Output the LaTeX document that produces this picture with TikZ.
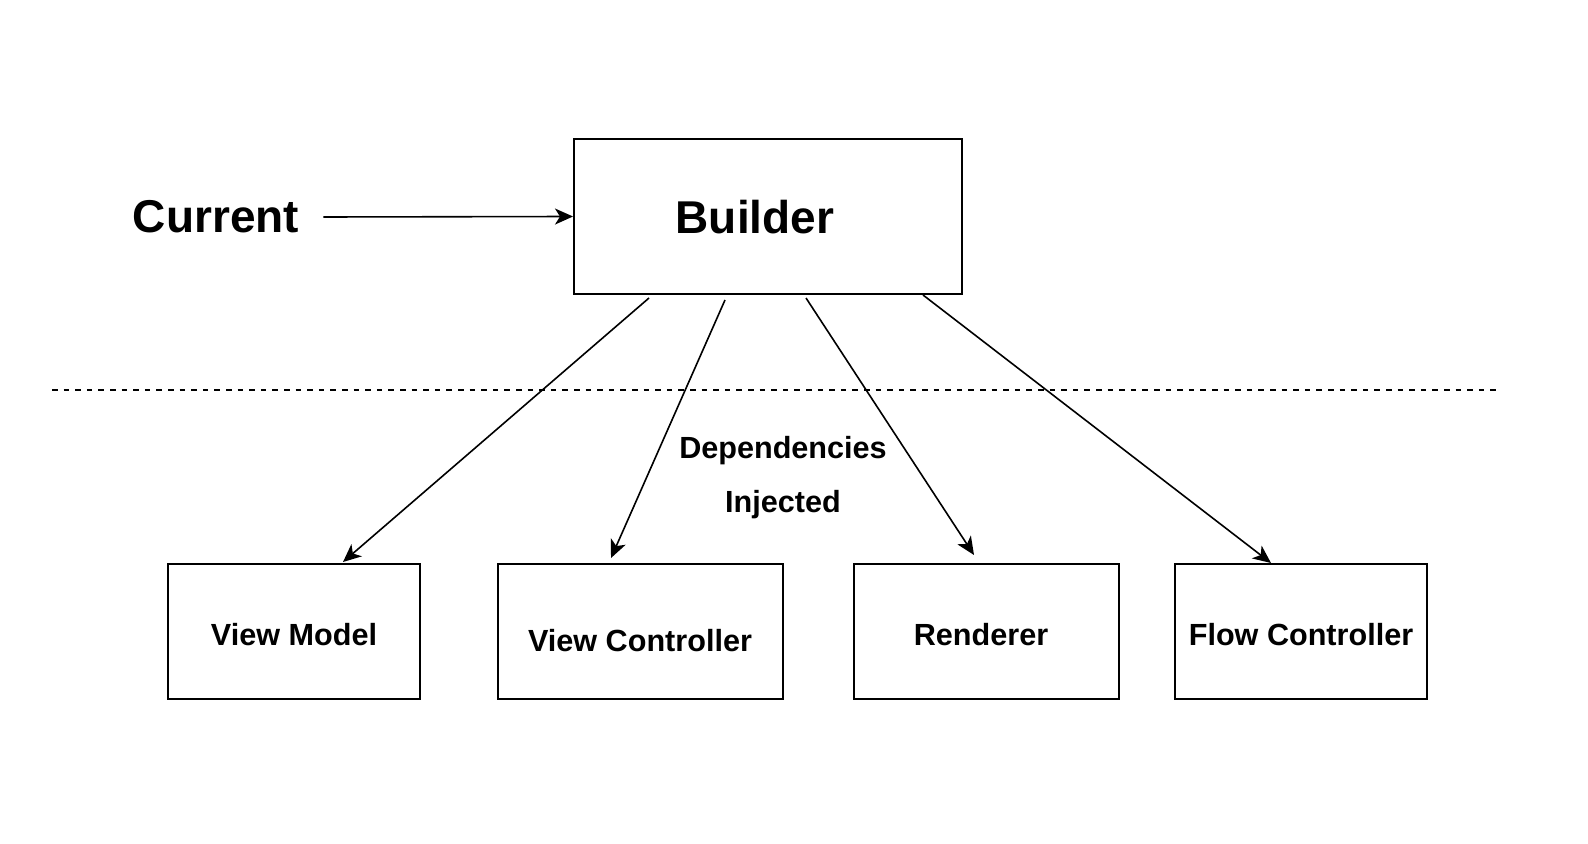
\documentclass[tikz,border=0pt]{standalone}
\usepackage{fontspec}
\setmainfont{Liberation Sans}
\usetikzlibrary{arrows.meta,calc}
\begin{document}
\begin{tikzpicture}[x=0.5pt,y=-0.5pt,
  box/.style={draw=black,line width=1pt,rectangle,inner sep=0pt},
  big/.style={font=\fontsize{23}{27}\selectfont\bfseries},
  small/.style={font=\fontsize{15.3}{18}\selectfont\bfseries},
  arr/.style={line width=0.8pt,-{Stealth[length=9pt,width=8pt,inset=2.5pt]}},
  sep/.style={line width=0.8pt,dash pattern=on 2.8pt off 3pt}]
\useasboundingbox (0,0) rectangle (1588,844);
% nodes
\node[box,minimum width=194pt,minimum height=77.5pt] (builder) at (768,216.5) {};
\node[big] (buildertext) at (755,217) {Builder};
\node[big,inner xsep=12pt] (current) at (216,217) {Current};
\node[box,minimum width=126pt,minimum height=67.5pt] (vm) at (294,631.5) {};
\node[box,minimum width=142.5pt,minimum height=67.5pt] (vc) at (640.5,631.5) {};
\node[box,minimum width=132.5pt,minimum height=67.5pt] (rd) at (986.5,631.5) {};
\node[box,minimum width=126pt,minimum height=67.5pt] (fc) at (1301,631.5) {};
\node[small] (vmt) at (294,635) {View Model};
\node[small] (vct) at (640,641) {View Controller};
\node[small] (rdt) at (981,635) {Renderer};
\node[small] (fct) at (1301,635) {Flow Controller};
\node[small] (dep) at (783,451) {Dependencies};
\node[small] (inj) at (783,505) {Injected};
% dashed separator
\coordinate (sepL) at (52,390);
\coordinate (sepR) at (1500,390);
\draw[sep] (sepL) -- (sepR);
% connectors
\draw[arr] (current.east) -- (builder.west);
\draw[arr] ($(builder.south west)+(76,3)$) -- ($(vm.north west)+(176,-1)$);
\draw[arr] ($(builder.south west)+(152,5)$) -- ($(vc.north west)+(114,-5)$);
\draw[arr] ($(builder.south west)+(233,3)$) -- ($(rd.north west)+(121,-8)$);
\draw[arr] ($(builder.south west)+(350,0)$) -- ($(fc.north west)+(97,0)$);
\end{tikzpicture}
\end{document}
